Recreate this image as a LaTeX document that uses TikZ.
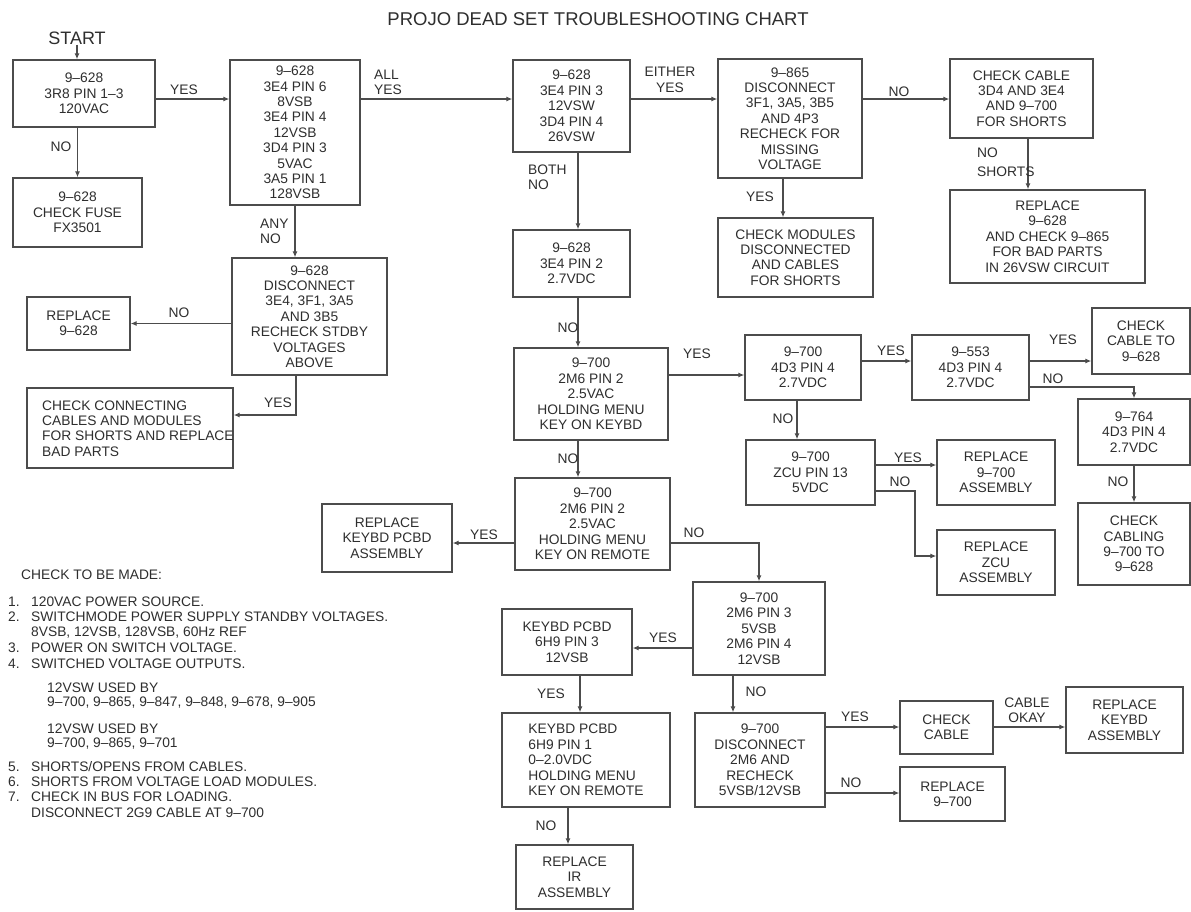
\documentclass[tikz,border=0pt]{standalone}
\usepackage{fontspec}
\setmainfont{Liberation Sans}
\usetikzlibrary{arrows.meta}
\definecolor{txt}{gray}{0.18}
\definecolor{ln}{gray}{0.3}
\newcommand\bx[7][]{%
  \pgfmathsetmacro\bxw{#5-#3}\pgfmathsetmacro\bxh{#6-#4}%
  \pgfmathsetmacro\bxx{(#3+#5)/2}\pgfmathsetmacro\bxy{(#4+#6)/2}%
  \node[box,#1,minimum width=\bxw pt,minimum height=\bxh pt] (#2) at (\bxx,\bxy) {#7};}
\tikzset{
  every node/.style={font=\fontsize{13.8}{15.4}\selectfont, text=txt, inner sep=0pt},
  box/.style={draw=ln, line width=1.3pt, align=center},
  lab/.style={align=center},
  labl/.style={align=left, anchor=west},
  arr/.style={draw=ln, line width=1.2pt, -{Latex[length=6pt,width=5pt]}},
  ln/.style={draw=ln, line width=1.2pt}
}
\begin{document}
\begin{tikzpicture}[x=1pt,y=-1pt]
\useasboundingbox[fill=white] (0,0) rectangle (1191,911);

% title
\node[font=\fontsize{18.5}{20}\selectfont] (title) at (598,19) {PROJO DEAD SET TROUBLESHOOTING CHART};
\node[font=\fontsize{18}{20}\selectfont] (start) at (77,38) {START};

% boxes
\bx{A}{13}{60}{155}{127}{9--628\\3R8 PIN 1--3\\120VAC}
\bx{B}{13}{178}{142}{247}{9--628\\CHECK FUSE\\FX3501}
\bx{C}{230}{60}{360}{205}{9--628\\3E4 PIN 6\\8VSB\\3E4 PIN 4\\12VSB\\3D4 PIN 3\\5VAC\\3A5 PIN 1\\128VSB}
\bx{D}{232}{258}{387}{375}{9--628\\DISCONNECT\\3E4, 3F1, 3A5\\AND 3B5\\RECHECK STDBY\\VOLTAGES\\ABOVE}
\bx{RP}{27}{297}{130}{350}{REPLACE\\9--628}
\bx{CC}{27}{388}{233}{468}{}
\node[labl] (CCt) at (42,428.5) {CHECK CONNECTING\\CABLES AND MODULES\\FOR SHORTS AND REPLACE\\BAD PARTS};
\bx{E}{513}{60}{630}{152}{9--628\\3E4 PIN 3\\12VSW\\3D4 PIN 4\\26VSW}
\bx{F}{718}{59}{862}{178}{9--865\\DISCONNECT\\3F1, 3A5, 3B5\\AND 4P3\\RECHECK FOR\\MISSING\\VOLTAGE}
\bx{G}{513}{230}{630}{297}{9--628\\3E4 PIN 2\\2.7VDC}
\bx{H}{718}{218}{873}{297}{CHECK MODULES\\DISCONNECTED\\AND CABLES\\FOR SHORTS}
\bx{I}{950}{59}{1093}{138}{CHECK CABLE\\3D4 AND 3E4\\AND 9--700\\FOR SHORTS}
\bx{J}{950}{190}{1145}{283}{REPLACE\\9--628\\AND CHECK 9--865\\FOR BAD PARTS\\IN 26VSW CIRCUIT}
\bx{K}{514}{348}{668}{440}{9--700\\2M6 PIN 2\\2.5VAC\\HOLDING MENU\\KEY ON KEYBD}
\bx{L}{745}{335}{861}{400}{9--700\\4D3 PIN 4\\2.7VDC}
\bx{P}{912}{335}{1029}{400}{9--553\\4D3 PIN 4\\2.7VDC}
\bx{Q}{1092}{308}{1190}{374}{CHECK\\CABLE TO\\9--628}
\bx{R}{1078}{399}{1190}{465}{9--764\\4D3 PIN 4\\2.7VDC}
\bx{S}{1078}{503}{1190}{585}{CHECK\\CABLING\\9--700 TO\\9--628}
\bx{M}{746}{440}{875}{505}{9--700\\ZCU PIN 13\\5VDC}
\bx{T}{937}{440}{1055}{505}{REPLACE\\9--700\\ASSEMBLY}
\bx{U}{937}{530}{1055}{595}{REPLACE\\ZCU\\ASSEMBLY}
\bx{N}{515}{478}{670}{570}{9--700\\2M6 PIN 2\\2.5VAC\\HOLDING MENU\\KEY ON REMOTE}
\bx{RK}{322}{504}{452}{572}{REPLACE\\KEYBD PCBD\\ASSEMBLY}
\bx{O}{693}{582}{825}{675}{9--700\\2M6 PIN 3\\5VSB\\2M6 PIN 4\\12VSB}
\bx{Z}{502}{609}{632}{675}{KEYBD PCBD\\6H9 PIN 3\\12VSB}
\bx[align=left]{AA}{502}{713}{670}{807}{KEYBD PCBD\\6H9 PIN 1\\0--2.0VDC\\HOLDING MENU\\KEY ON REMOTE}
\bx{AB}{516}{845}{633}{909}{REPLACE\\IR\\ASSEMBLY}
\bx{V}{695}{713}{825}{807}{9--700\\DISCONNECT\\2M6 AND\\RECHECK\\5VSB/12VSB}
\bx{W}{900}{701}{993}{754}{CHECK\\CABLE}
\bx{X}{1066}{687}{1183}{753}{REPLACE\\KEYBD\\ASSEMBLY}
\bx{Y}{900}{767}{1005}{821}{REPLACE\\9--700}

% routing coordinates
\coordinate (r1) at (0,99);
\coordinate (dcc) at (296,415);
\coordinate (c2) at (578,0);
\coordinate (c3) at (783,0);
\coordinate (c4) at (1028,0);
\coordinate (r2) at (0,375);
\coordinate (r3) at (0,361);
\coordinate (r4) at (0,387);
\coordinate (c5) at (797,0);
\coordinate (r5) at (0,465);
\coordinate (mu1) at (915,491);
\coordinate (mu2) at (915,556);
\coordinate (r7) at (0,543);
\coordinate (no) at (759,543);
\coordinate (r8) at (0,648);
\coordinate (c6) at (580,0);
\coordinate (c7) at (568,0);
\coordinate (c8) at (733,0);
\coordinate (r9) at (0,727);
\coordinate (r10) at (0,793);

% connectors
\draw[arr] (start.south) -- (start.south |- A.north);
\draw[arr] (B.north |- A.south) -- (B.north);
\draw[arr] (A.east |- r1) -- (C.west |- r1);
\draw[arr] (C.east |- r1) -- (E.west |- r1);
\draw[arr] (E.east |- r1) -- (F.west |- r1);
\draw[arr] (F.east |- r1) -- (I.west |- r1);
\draw[arr] (C.south) -- (C.south |- D.north);
\draw[arr] (D.west |- RP.east) -- (RP.east);
\draw[arr] (D.south -| dcc) |- (CC.east |- dcc);
\draw[arr] (E.south -| c2) -- (G.north -| c2);
\draw[arr] (F.south -| c3) -- (H.north -| c3);
\draw[arr] (I.south -| c4) -- (J.north -| c4);
\draw[arr] (G.south -| c2) -- (K.north -| c2);
\draw[arr] (K.south -| c2) -- (N.north -| c2);
\draw[arr] (K.east |- r2) -- (L.west |- r2);
\draw[arr] (L.east |- r3) -- (P.west |- r3);
\draw[arr] (P.east |- r3) -- (Q.west |- r3);
\draw[arr] (P.east |- r4) -| (R.north);
\draw[arr] (R.south) -- (S.north);
\draw[arr] (L.south -| c5) -- (M.north -| c5);
\draw[arr] (M.east |- r5) -- (T.west |- r5);
\draw[arr] (M.east |- mu1) -- (mu1) -- (mu2) -- (U.west |- mu2);
\draw[arr] (N.west |- r7) -- (RK.east |- r7);
\draw[arr] (N.east |- no) -| (O.north);
\draw[arr] (O.west |- r8) -- (Z.east |- r8);
\draw[arr] (Z.south -| c6) -- (AA.north -| c6);
\draw[arr] (AA.south -| c7) -- (AB.north -| c7);
\draw[arr] (O.south -| c8) -- (V.north -| c8);
\draw[arr] (V.east |- r9) -- (W.west |- r9);
\draw[arr] (W.east |- r9) -- (X.west |- r9);
\draw[arr] (V.east |- r10) -- (Y.west |- r10);

% connector labels
\node[lab] (t1) at (61,147) {NO};
\node[lab] (t2) at (184,90) {YES};
\node[labl] (t3) at (374,82.5) {ALL\\YES};
\node[labl] (t4) at (260,231.5) {ANY\\NO};
\node[lab] (t5) at (670,80) {EITHER\\YES};
\node[labl] (t6) at (528,177.5) {BOTH\\NO};
\node[lab] (t7) at (760,197) {YES};
\node[lab] (t8) at (899,92) {NO};
\node[labl] (t9) at (977,162.5) {NO\\[3.5pt]SHORTS};
\node[lab] (t10) at (179,313) {NO};
\node[lab] (t11) at (278,403) {YES};
\node[lab] (t12) at (568,328) {NO};
\node[lab] (t13) at (697,354) {YES};
\node[lab] (t14) at (568,459) {NO};
\node[lab] (t15) at (484,535) {YES};
\node[lab] (t16) at (694,533) {NO};
\node[lab] (t17) at (783,419) {NO};
\node[lab] (t18) at (891,351) {YES};
\node[lab] (t19) at (1063,340) {YES};
\node[lab] (t20) at (1053,379) {NO};
\node[lab] (t21) at (1118,482) {NO};
\node[lab] (t22) at (908,458) {YES};
\node[lab] (t23) at (900,482) {NO};
\node[lab] (t24) at (663,638) {YES};
\node[lab] (t25) at (551,694) {YES};
\node[lab] (t26) at (546,826) {NO};
\node[lab] (t27) at (756,692) {NO};
\node[lab] (t28) at (855,717) {YES};
\node[lab] (t29) at (1027,710.5) {CABLE\\OKAY};
\node[lab] (t30) at (851,783) {NO};

% legend
\node[labl] (g0) at (21,575) {CHECK TO BE MADE:};
\node[labl] (n1) at (8,602) {1.};
\node[labl] (n2) at (8,617) {2.};
\node[labl] (n3) at (8,648) {3.};
\node[labl] (n4) at (8,664) {4.};
\node[labl] (n5) at (8,767) {5.};
\node[labl] (n6) at (8,782) {6.};
\node[labl] (n7) at (8,797) {7.};
\node[labl] (g1) at (31,602) {120VAC POWER SOURCE.};
\node[labl] (g2) at (31,617) {SWITCHMODE POWER SUPPLY STANDBY VOLTAGES.};
\node[labl] (g2b) at (31,633) {8VSB, 12VSB, 128VSB, 60Hz REF};
\node[labl] (g3) at (31,648) {POWER ON SWITCH VOLTAGE.};
\node[labl] (g4) at (31,664) {SWITCHED VOLTAGE OUTPUTS.};
\node[labl] (g4a) at (47,688) {12VSW USED BY};
\node[labl] (g4b) at (47,703) {9--700, 9--865, 9--847, 9--848, 9--678, 9--905};
\node[labl] (g4c) at (47,729) {12VSW USED BY};
\node[labl] (g4d) at (47,744) {9--700, 9--865, 9--701};
\node[labl] (g5) at (31,767) {SHORTS/OPENS FROM CABLES.};
\node[labl] (g6) at (31,782) {SHORTS FROM VOLTAGE LOAD MODULES.};
\node[labl] (g7) at (31,797) {CHECK IN BUS FOR LOADING.};
\node[labl] (g7b) at (31,813) {DISCONNECT 2G9 CABLE AT 9--700};
\end{tikzpicture}
\end{document}
